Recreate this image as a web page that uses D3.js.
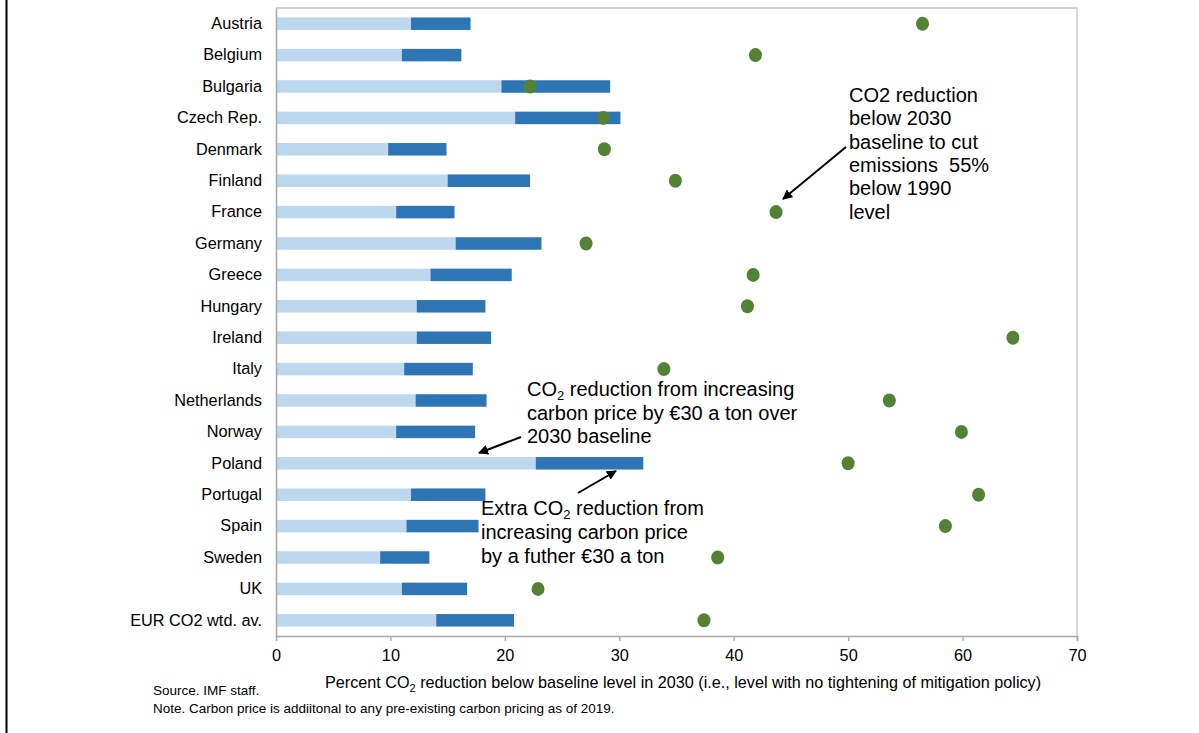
<!DOCTYPE html>
<html>
<head>
<meta charset="utf-8">
<script src="https://cdn.jsdelivr.net/npm/d3@7"></script>
<style>
  body { margin: 0; background: #fff; }
  svg text { font-family: Arial, "Liberation Sans", sans-serif; fill: #000; }
</style>
</head>
<body>
<div id="chart"></div>
<script>
// countries, top to bottom
var countries = ["Austria", "Belgium", "Bulgaria", "Czech Rep.", "Denmark", "Finland", "France",
    "Germany", "Greece", "Hungary", "Ireland", "Italy", "Netherlands", "Norway", "Poland",
    "Portugal", "Spain", "Sweden", "UK", "EUR CO2 wtd. av."];

// reduction from first €30 a ton
var firstStep = [11.8, 11.0, 19.7, 20.9, 9.8, 15.0, 10.5, 15.7, 13.5, 12.3,
    12.3, 11.2, 12.2, 10.5, 22.7, 11.8, 11.4, 9.1, 11.0, 14.0];

// total after a further €30 a ton
var secondStep = [17.0, 16.2, 29.2, 30.1, 14.9, 22.2, 15.6, 23.2, 20.6, 18.3,
    18.8, 17.2, 18.4, 17.4, 32.1, 18.3, 17.7, 13.4, 16.7, 20.8];

// reduction needed to cut emissions 55% below 1990
var target55 = [56.5, 41.9, 22.2, 28.6, 28.7, 34.9, 43.7, 27.1, 41.7, 41.2,
    64.4, 33.9, 53.6, 59.9, 50.0, 61.4, 58.5, 38.6, 22.9, 37.4];

var xTicks = [0, 10, 20, 30, 40, 50, 60, 70];

var rows = countries.map((c, i) => ({
    name: c, first: firstStep[i], total: secondStep[i], target: target55[i]
}));

let margin = {top: 8, right: 122, bottom: 97, left: 276},
    width = 1199 - margin.left - margin.right,
    height = 733 - margin.top - margin.bottom;

let svg = d3.select("#chart").append("svg")
    .attr("width", 1199)
    .attr("height", 733);

// black edge line on the left of the screenshot
svg.append("line")
    .attr("x1", 6.5).attr("x2", 6.5)
    .attr("y1", 0).attr("y2", 733)
    .attr("stroke", "#000").attr("stroke-width", 2);

let g = svg.append("g")
    .attr("transform", "translate(" + margin.left + "," + margin.top + ")");

let x = d3.scaleLinear()
    .domain([0, 70])
    .range([0, width]);

let y = d3.scaleBand()
    .domain(countries)
    .range([0, height])
    .padding(0);

let barH = 12.5;

// frame (top & right)
g.append("path")
    .attr("d", "M0,0H" + width + "V" + height)
    .attr("fill", "none")
    .attr("stroke", "#c8c8c8")
    .attr("stroke-width", 1.3);

// bars
g.selectAll(".bar-first")
    .data(rows)
    .enter().append("rect")
    .attr("class", "bar-first")
    .attr("x", x(0))
    .attr("y", d => y(d.name) + y.bandwidth() / 2 - barH / 2)
    .attr("width", d => x(d.first) - x(0))
    .attr("height", barH)
    .attr("fill", "#bdd7ee");

g.selectAll(".bar-second")
    .data(rows)
    .enter().append("rect")
    .attr("class", "bar-second")
    .attr("x", d => x(d.first))
    .attr("y", d => y(d.name) + y.bandwidth() / 2 - barH / 2)
    .attr("width", d => x(d.total) - x(d.first))
    .attr("height", barH)
    .attr("fill", "#2e75b6");

// target dots
g.selectAll(".dot")
    .data(rows)
    .enter().append("ellipse")
    .attr("class", "dot")
    .attr("cx", d => x(d.target))
    .attr("cy", d => y(d.name) + y.bandwidth() / 2)
    .attr("rx", 6.5)
    .attr("ry", 7)
    .attr("fill", "#548235");

// axes
let xAxis = d3.axisBottom(x)
    .tickValues(xTicks)
    .tickSize(5)
    .tickPadding(8)
    .tickFormat(d3.format("d"));

let xAxisGroup = g.append("g")
    .attr("transform", "translate(0," + height + ")")
    .call(xAxis);
xAxisGroup.select(".domain").attr("stroke", "#a6a6a6").attr("stroke-width", 1.5);
xAxisGroup.selectAll(".tick line").attr("stroke", "#a6a6a6").attr("stroke-width", 1.3);
xAxisGroup.selectAll(".tick").filter(d => d === 0).select("line").remove();
xAxisGroup.selectAll("text").attr("font-size", 16.3).attr("font-family", "Arial, 'Liberation Sans', sans-serif");

let yAxis = d3.axisLeft(y).tickSize(0).tickPadding(14);
let yAxisGroup = g.append("g").call(yAxis);
yAxisGroup.select(".domain").attr("stroke", "#a6a6a6").attr("stroke-width", 1.5);
yAxisGroup.selectAll("text").attr("font-size", 16.3).attr("font-family", "Arial, 'Liberation Sans', sans-serif");

// x axis title
let xt = svg.append("text")
    .attr("x", 325)
    .attr("y", 688)
    .attr("font-size", 16.2);
xt.append("tspan").text("Percent CO");
xt.append("tspan").attr("font-size", 11).attr("dy", 4).text("2");
xt.append("tspan").attr("dy", -4).text(" reduction below baseline level in 2030 (i.e., level with no tightening of mitigation policy)");

// annotations; a line is a list of [text, isSubscript] pieces
function addLines(x0, y0, lines, step) {
    lines.forEach((ln, i) => {
        let t = svg.append("text")
            .attr("x", x0)
            .attr("y", y0 + i * step)
            .attr("font-size", 20)
            .attr("xml:space", "preserve");
        ln.forEach(piece => {
            if (piece[1]) {
                t.append("tspan").attr("font-size", 13).attr("dy", 4).text(piece[0]);
            } else {
                let s = t.append("tspan").text(piece[0]);
                if (t.selectAll("tspan").size() > 1) s.attr("dy", -4);
            }
        });
    });
}

addLines(849, 102, [[["CO2 reduction"]], [["below 2030"]], [["baseline to cut"]],
    [["emissions  55%"]], [["below 1990"]], [["level"]]], 23.3);

addLines(527, 396, [[["CO"], ["2", true], [" reduction from increasing"]],
    [["carbon price by €30 a ton over"]], [["2030 baseline"]]], 23.5);

addLines(481, 515, [[["Extra CO"], ["2", true], [" reduction from"]],
    [["increasing carbon price"]], [["by a futher €30 a ton"]]], 24);

// arrows
svg.append("defs").append("marker")
    .attr("id", "arrow")
    .attr("viewBox", "0 0 10 10")
    .attr("refX", 9).attr("refY", 5)
    .attr("markerWidth", 5).attr("markerHeight", 5)
    .attr("orient", "auto")
    .append("path")
    .attr("d", "M0,0L10,5L0,10z")
    .attr("fill", "#000");

let arrows = [
    [846, 147, 783, 199],
    [521, 437, 479, 453],
    [578, 493, 616, 471]
];
svg.selectAll(".arrow")
    .data(arrows)
    .enter().append("line")
    .attr("class", "arrow")
    .attr("x1", d => d[0]).attr("y1", d => d[1])
    .attr("x2", d => d[2]).attr("y2", d => d[3])
    .attr("stroke", "#000")
    .attr("stroke-width", 2)
    .attr("marker-end", "url(#arrow)");

// source & note
svg.append("text")
    .attr("x", 153).attr("y", 695)
    .attr("font-size", 13.5)
    .text("Source. IMF staff.");
svg.append("text")
    .attr("x", 153).attr("y", 713)
    .attr("font-size", 13.5)
    .text("Note. Carbon price is addiitonal to any pre-existing carbon pricing as of 2019.");
</script>
</body>
</html>
